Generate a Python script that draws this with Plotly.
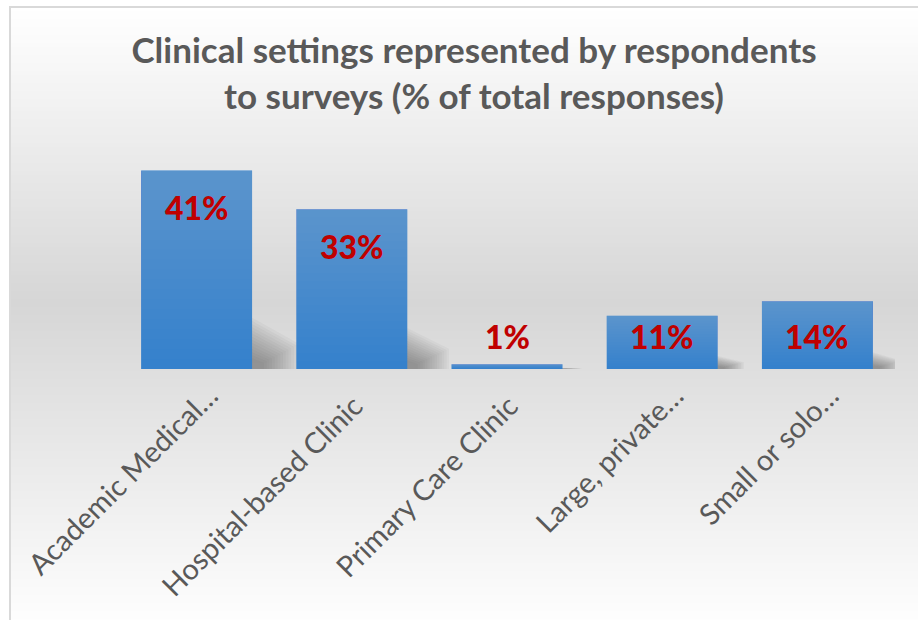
import plotly.graph_objects as go

# Survey data: share of total responses by clinical setting
settings = [
    "Academic Medical…",
    "Hospital-based Clinic\u00a0\u00a0",
    "Primary Care Clinic\u00a0\u00a0",
    "Large, private…",
    "Small or solo…",
]
share_pct = [41, 33, 1, 11, 14]

W, H = 918, 620
M_L, M_R, M_T, M_B = 119, 23, 151, 251
Y_MAX = 45
BAR_GAP = 0.285
BAR_HALF = (1 - BAR_GAP) / 2

plot_w = W - M_L - M_R
plot_h = H - M_T - M_B
px_per_unit = plot_h / Y_MAX


def px_x(px):
    return (px - M_L) / plot_w


def px_y(py):
    return (H - M_B - py) / plot_h


def mix(c0, c1, t):
    return tuple(round(a + (b - a) * t) for a, b in zip(c0, c1))


shapes = []

# chart-area background: vertical grey gradient (light, darker, light)
stops = [(7, (255, 255, 255)), (300, (214, 214, 214)), (622, (254, 254, 254))]
step = 4
y = 7
while y < 622:
    for (ya, ca), (yb, cb) in zip(stops, stops[1:]):
        if ya <= y < yb:
            c = mix(ca, cb, (y - ya) / (yb - ya))
            break
    shapes.append(dict(
        type="rect", xref="paper", yref="paper", layer="below",
        x0=px_x(10), x1=px_x(W + 10), y0=px_y(y), y1=px_y(y + step + 1),
        line=dict(width=0), fillcolor="rgb(%d,%d,%d)" % c,
    ))
    y += step

# chart-area border
shapes.append(dict(
    type="rect", xref="paper", yref="paper", layer="below",
    x0=px_x(10), x1=px_x(W + 20), y0=px_y(7), y1=px_y(H + 20),
    line=dict(color="#d9d9d9", width=2), fillcolor="rgba(0,0,0,0)",
))

# soft drop shadows falling to the right of each bar
n_layers = 14
for i, v in enumerate(share_pct):
    xr = i + BAR_HALF
    h_full = 0.28 * v
    w_full = 0.12 + 0.0045 * v
    for j in range(n_layers):
        s = 1.0 - 0.75 * j / (n_layers - 1)
        h = h_full * s
        w = w_full * s
        path = "M %f,0 L %f,%f L %f,%f L %f,0 Z" % (
            xr - 0.05, xr - 0.05, h, xr + w, h * 0.45, xr + w)
        shapes.append(dict(
            type="path", xref="x", yref="y", layer="below", path=path,
            line=dict(width=0), fillcolor="rgba(70,70,70,0.045)",
        ))

# light-to-dark vertical sheen on each bar (nested, so no seams)
n_sheen = 20
for i, v in enumerate(share_pct):
    for k in range(n_sheen):
        shapes.append(dict(
            type="rect", xref="x", yref="y", layer="above",
            x0=i - BAR_HALF, x1=i + BAR_HALF,
            y0=v * k / n_sheen, y1=v,
            line=dict(width=0),
            fillcolor="rgba(255,255,255,0.0118)",
        ))

# value labels: near the top of tall bars, at a common height otherwise
annotations = []
for i, v in enumerate(share_pct):
    y_lab = max(v - 37 / px_per_unit, 33 / px_per_unit)
    annotations.append(dict(
        x=i, y=y_lab, xref="x", yref="y", text=f"{v}%", showarrow=False,
        xanchor="center", yanchor="middle",
        font=dict(family="Lato", size=32, color="#c00000", weight=900),
    ))

fig = go.Figure(go.Bar(
    x=list(range(len(settings))), y=share_pct,
    marker=dict(color="#3380cc", line=dict(width=0)),
    hoverinfo="skip",
))

fig.update_layout(
    width=W, height=H, autosize=False,
    margin=dict(l=M_L, r=M_R, t=M_T, b=M_B),
    paper_bgcolor="white", plot_bgcolor="rgba(0,0,0,0)",
    bargap=BAR_GAP, showlegend=False,
    title=dict(
        text="Clinical settings represented by respondents<br>to surveys (% of total responses)",
        x=474 / W, xanchor="center", y=1 - 63 / H, yanchor="top",
        xref="container", yref="container",
        font=dict(family="Lato", size=35, color="#595959", weight="bold"),
    ),
    xaxis=dict(
        tickmode="array", tickvals=list(range(len(settings))), ticktext=settings,
        range=[-0.5, len(settings) - 0.5],
        tickangle=-45, showgrid=False, zeroline=False, showline=False,
        ticks="", ticklabelstandoff=3, ticklabelshift=13,
        tickfont=dict(family="Lato", size=29, color="#595959"),
    ),
    yaxis=dict(range=[0, Y_MAX], visible=False),
    shapes=shapes, annotations=annotations,
)

fig.write_html("out.html")
